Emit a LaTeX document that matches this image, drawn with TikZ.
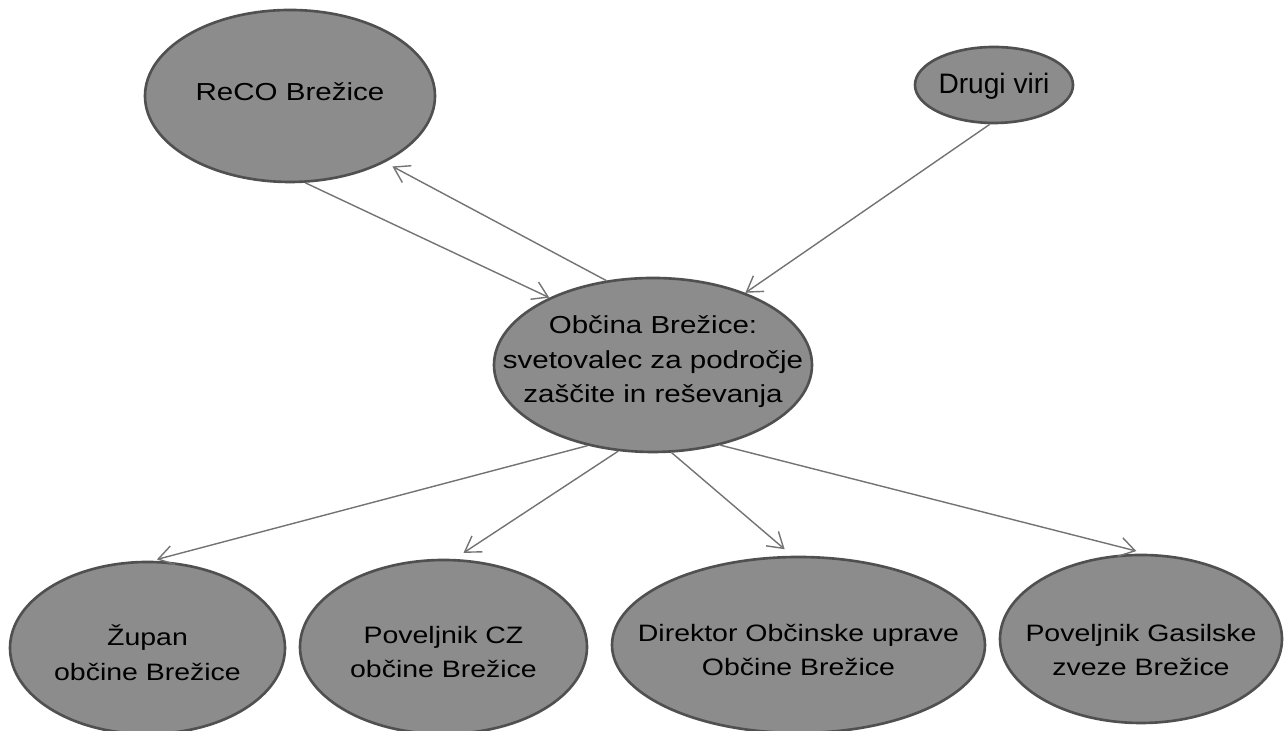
\documentclass[tikz,border=0pt]{standalone}
\usepackage{fontspec}
\setmainfont{Liberation Sans}
\newfontfamily\widefont[FakeStretch=1.2]{Liberation Sans}
\usetikzlibrary{shapes.geometric, arrows.meta}
\definecolor{blobfill}{RGB}{140,140,140}
\definecolor{blobline}{RGB}{80,80,80}
\definecolor{arrowgray}{RGB}{115,115,115}
\tikzset{>={Straight Barb[length=3mm,width=3.8mm]}}
\tikzset{
    blob/.style = {ellipse, draw=blobline, fill=blobfill, line width=1.5pt, inner sep=0pt},
    lbl/.style = {align=center, inner sep=0pt, text=black},
    link/.style = {->, draw=arrowgray, line width=0.8pt}
}

\begin{document}
\begin{tikzpicture}
    \useasboundingbox (0,0) rectangle (25.74,14.62);
    % top row
    \node [blob, minimum width=5.80cm, minimum height=3.44cm] (reco) at (5.80,12.70) {};
    \node [lbl, font=\widefont\fontsize{14}{19.6}\selectfont] (reco text) at ([yshift=0.08cm]reco) {ReCO Brežice};
    \node [blob, minimum width=3.16cm, minimum height=1.52cm] (drugi) at (19.88,12.92) {};
    \node [lbl, font=\fontsize{16}{19.6}\selectfont] (drugi text) at ([yshift=-0.03cm]drugi) {Drugi viri};
    % middle
    \node [blob, minimum width=6.36cm, minimum height=3.48cm] (obcina) at (13.06,7.32) {};
    \node [lbl, font=\widefont\fontsize{14}{19.6}\selectfont] (obcina text) at ([yshift=0.06cm]obcina)
        {Občina Brežice:\\svetovalec za področje\\zaščite in reševanja};
    % bottom row
    \node [blob, minimum width=5.50cm, minimum height=3.44cm] (zupan) at (2.95,1.66) {};
    \node [lbl, font=\widefont\fontsize{13.5}{19.8}\selectfont] (zupan text) at ([yshift=-0.10cm]zupan)
        {Župan\\občine Brežice};
    \node [blob, minimum width=5.74cm, minimum height=3.48cm] (cz) at (8.87,1.68) {};
    \node [lbl, font=\widefont\fontsize{13.5}{19.8}\selectfont] (cz text) at ([yshift=-0.10cm]cz)
        {Poveljnik CZ\\občine Brežice};
    \node [blob, minimum width=7.46cm, minimum height=3.52cm] (direktor) at (15.97,1.72) {};
    \node [lbl, font=\widefont\fontsize{13.5}{19.8}\selectfont] (direktor text) at ([yshift=-0.10cm]direktor)
        {Direktor Občinske uprave\\Občine Brežice};
    \node [blob, minimum width=5.64cm, minimum height=3.36cm] (gasilske) at (22.82,1.84) {};
    \node [lbl, font=\widefont\fontsize{13.5}{19.8}\selectfont] (gasilske text) at ([yshift=-0.22cm]gasilske)
        {Poveljnik Gasilske\\zveze Brežice};
    % arrows
    \draw [link] (reco.-80) -- (obcina.147);
    \draw [link, shorten >=0.17cm] (obcina.119) -- (reco.-35);
    \draw [link] (drugi.-96) -- (obcina.38);
    \draw [link, shorten >=0.1cm] (obcina.-129) -- (zupan.87);
    \draw [link, shorten >=0.22cm] (obcina.-112) -- (cz.83);
    \draw [link, shorten >=0.2cm] (obcina.-78) -- (direktor.94);
    \draw [link, shorten >=0.22cm] (obcina.-50) -- (gasilske.86);
\end{tikzpicture}
\end{document}
